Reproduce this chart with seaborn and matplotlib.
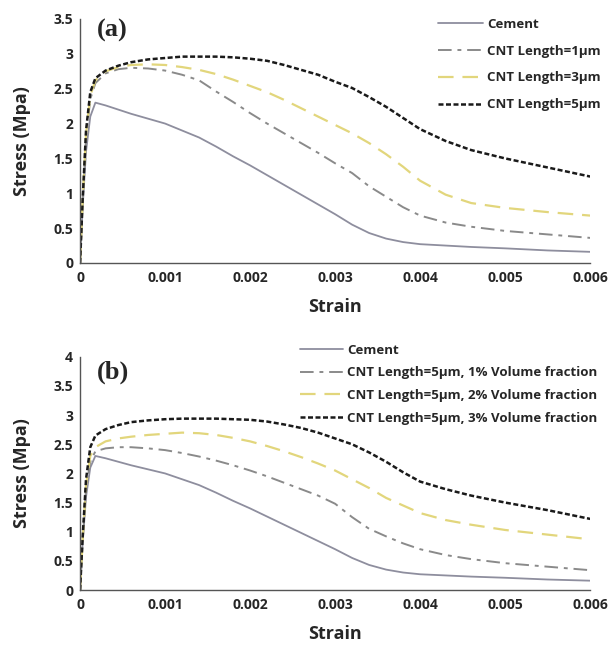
import matplotlib
matplotlib.use('Agg')
import numpy as np
import pandas as pd
import seaborn as sns
import matplotlib.pyplot as plt

# shared strain grid for all curves
strain = [0, 0.00003, 0.00007, 0.00012, 0.00018, 0.0003, 0.00045, 0.0006, 0.0008, 0.001,
          0.0012, 0.0014, 0.0016, 0.0018, 0.002, 0.0022, 0.0024, 0.0026, 0.0028, 0.003,
          0.0032, 0.0034, 0.0036, 0.0038, 0.004, 0.0043, 0.0046, 0.005, 0.0055, 0.006]

cement = [0, 0.8, 1.6, 2.1, 2.3, 2.26, 2.2, 2.14, 2.07, 2.0, 1.9, 1.8, 1.67, 1.53, 1.4,
          1.26, 1.12, 0.98, 0.84, 0.7, 0.55, 0.43, 0.35, 0.30, 0.27, 0.25, 0.23, 0.21, 0.18, 0.16]

# panel (a): CNT length
len1 = [0, 0.9, 1.8, 2.35, 2.58, 2.72, 2.78, 2.8, 2.79, 2.76, 2.7, 2.62, 2.46, 2.31, 2.15,
        2.0, 1.86, 1.72, 1.58, 1.43, 1.29, 1.1, 0.95, 0.8, 0.68, 0.58, 0.52, 0.46, 0.41, 0.36]
len3 = [0, 0.9, 1.85, 2.4, 2.62, 2.75, 2.81, 2.84, 2.85, 2.84, 2.81, 2.77, 2.71, 2.63, 2.54,
        2.45, 2.34, 2.22, 2.1, 1.98, 1.86, 1.72, 1.56, 1.38, 1.18, 0.98, 0.86, 0.79, 0.73, 0.68]
len5 = [0, 0.9, 1.9, 2.45, 2.65, 2.76, 2.83, 2.88, 2.92, 2.94, 2.96, 2.96, 2.96, 2.95, 2.93,
        2.9, 2.84, 2.77, 2.7, 2.6, 2.51, 2.38, 2.24, 2.08, 1.92, 1.75, 1.62, 1.5, 1.37, 1.24]

# panel (b): volume fraction at 5um
vf1 = [0, 0.85, 1.75, 2.2, 2.38, 2.43, 2.45, 2.45, 2.43, 2.4, 2.35, 2.29, 2.22, 2.14, 2.05,
       1.95, 1.84, 1.73, 1.62, 1.48, 1.25, 1.05, 0.92, 0.8, 0.7, 0.6, 0.53, 0.46, 0.40, 0.34]
vf2 = [0, 0.85, 1.8, 2.3, 2.45, 2.55, 2.6, 2.63, 2.66, 2.68, 2.7, 2.69, 2.66, 2.61, 2.55,
       2.47, 2.38, 2.28, 2.17, 2.05, 1.9, 1.75, 1.58, 1.45, 1.32, 1.2, 1.12, 1.03, 0.95, 0.87]
vf3 = [0, 0.9, 1.9, 2.45, 2.65, 2.76, 2.83, 2.88, 2.91, 2.93, 2.94, 2.94, 2.94, 2.93, 2.92,
       2.89, 2.84, 2.78, 2.7, 2.6, 2.5, 2.36, 2.2, 2.02, 1.86, 1.73, 1.62, 1.5, 1.37, 1.22]

labels_a = ['Cement', 'CNT Length=1μm', 'CNT Length=3μm', 'CNT Length=5μm']
labels_b = ['Cement', 'CNT Length=5μm, 1% Volume fraction',
            'CNT Length=5μm, 2% Volume fraction', 'CNT Length=5μm, 3% Volume fraction']

colors = ['#8e8e9e', '#8a8a8a', '#e2d67c', '#1a1a1a']
dashes = ['', (7, 3, 2, 3), (7, 4), (2, 1)]
widths = [1.3, 1.4, 1.6, 1.8]

sns.set_style('white')
plt.rcParams['font.family'] = ['Open Sans', 'DejaVu Sans']

fig = plt.figure(figsize=(6.16, 6.5), dpi=100)
ax_a = fig.add_axes([0.13, 0.5954, 0.828, 0.3754])
ax_b = fig.add_axes([0.13, 0.0923, 0.828, 0.3587])


def draw(ax, series, labels, ymax, letter, letter_y, leg_anchor, spacing, hlen):
    frames = []
    for lab, vals in zip(labels, series):
        frames.append(pd.DataFrame({'Strain': strain, 'Stress': vals, 'curve': lab}))
    df = pd.concat(frames)
    for i, lab in enumerate(labels):
        sub = df[df['curve'] == lab]
        sns.lineplot(data=sub, x='Strain', y='Stress', ax=ax, color=colors[i],
                     lw=widths[i], label=lab)
        if dashes[i]:
            ax.lines[-1].set_dashes(dashes[i])
    ax.set_xlim(0, 0.006)
    ax.set_ylim(0, ymax)
    ax.set_xticks(np.arange(0, 0.0061, 0.001))
    ax.set_xticklabels(['0', '0.001', '0.002', '0.003', '0.004', '0.005', '0.006'])
    yt = np.arange(0, ymax + 0.01, 0.5)
    ax.set_yticks(yt)
    ax.set_yticklabels([f'{v:g}' for v in yt])
    ax.tick_params(axis='x', length=0, labelsize=10, pad=6)
    ax.tick_params(axis='y', length=0, labelsize=10, pad=5)
    for t in ax.get_xticklabels() + ax.get_yticklabels():
        t.set_fontweight('bold')
    ax.set_xlabel('Strain', fontsize=13, fontweight='bold', labelpad=9)
    ax.set_ylabel('Stress (Mpa)', fontsize=13, fontweight='bold', labelpad=16)
    sns.despine(ax=ax)
    for s in ['left', 'bottom']:
        ax.spines[s].set_color('#555555')
        ax.spines[s].set_linewidth(1.0)
    ax.text(0.033, letter_y, letter, transform=ax.transAxes, fontsize=19, fontweight='bold',
            family=['Liberation Serif', 'DejaVu Serif'], va='top', ha='left')
    leg = ax.legend(loc='upper left', bbox_to_anchor=leg_anchor, frameon=False,
                    fontsize=9.5, handlelength=hlen, handletextpad=0.3,
                    labelspacing=spacing, borderaxespad=0, borderpad=0)
    for t in leg.get_texts():
        t.set_fontweight('bold')


draw(ax_a, [cement, len1, len3, len5], labels_a, 3.5, '(a)', 1.0, (0.702, 1.004), 1.04, 3.4)
draw(ax_b, [cement, vf1, vf2, vf3], labels_b, 4.0, '(b)', 0.985, (0.431, 1.056), 0.73, 3.3)

fig.savefig('out.png', dpi=100)
